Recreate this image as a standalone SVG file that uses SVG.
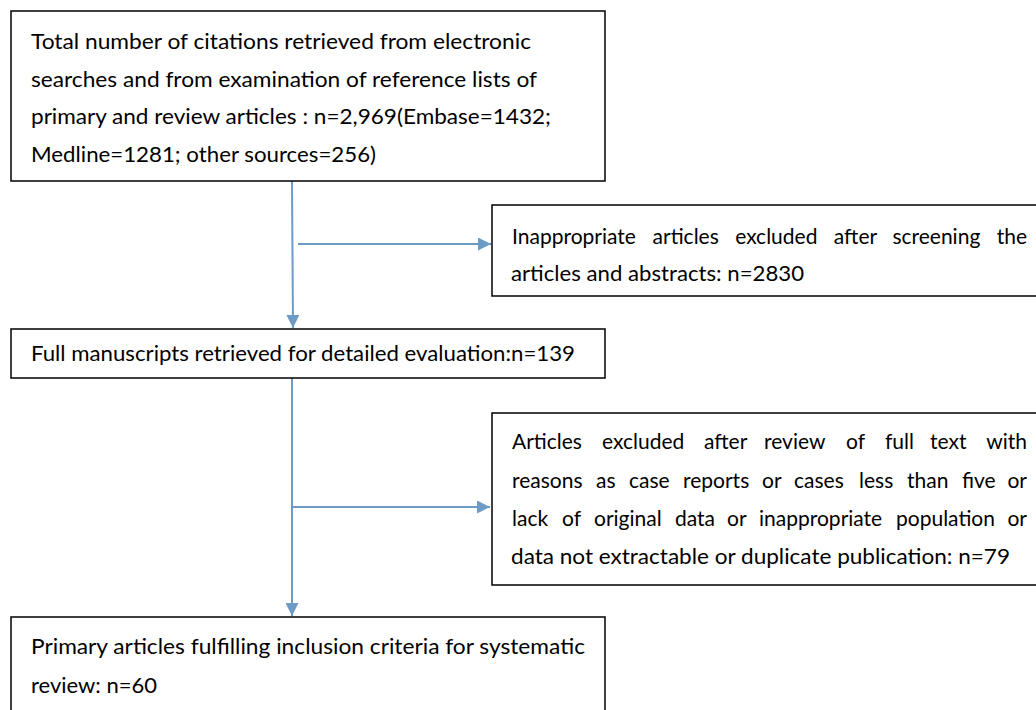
<svg xmlns="http://www.w3.org/2000/svg" width="1036" height="710" viewBox="0 0 1036 710">
<style>
.box{fill:#fff;stroke:#000;stroke-width:1.5}
.t{font-family:Lato,"Open Sans","Liberation Sans",sans-serif;font-size:21px;fill:#000}
.e{text-anchor:end}
.c{stroke:#6e9ac6;stroke-width:2;fill:none}
</style>
<defs>
<marker id="ah" viewBox="0 0 10 10" refX="10" refY="5" markerWidth="13" markerHeight="13" markerUnits="userSpaceOnUse" orient="auto">
<path d="M0,0 L10,5 L0,10 z" fill="#6e9ac6"/>
</marker>
</defs>
<rect width="1036" height="710" fill="#fff"/>
<g id="connectors">
<line class="c" x1="292" y1="181" x2="293" y2="328" marker-end="url(#ah)"/>
<line class="c" x1="298" y1="244" x2="491" y2="244" marker-end="url(#ah)"/>
<line class="c" x1="292" y1="378" x2="292" y2="616" marker-end="url(#ah)"/>
<line class="c" x1="293" y1="507" x2="490" y2="507" marker-end="url(#ah)"/>
</g>
<g id="n1">
<rect class="box" x="11" y="11" width="594" height="170"/>
<text class="t" x="31" y="49" textLength="500" lengthAdjust="spacingAndGlyphs">Total number of citations retrieved from electronic</text>
<text class="t" x="31" y="87" textLength="506" lengthAdjust="spacingAndGlyphs">searches and from examination of reference lists of</text>
<text class="t" x="31" y="124" textLength="520" lengthAdjust="spacingAndGlyphs">primary and review articles : n=2,969(Embase=1432;</text>
<text class="t" x="31" y="162" textLength="345" lengthAdjust="spacingAndGlyphs">Medline=1281; other sources=256)</text>
</g>
<g id="n2">
<rect class="box" x="492" y="205" width="550" height="91"/>
<text class="t" y="244"><tspan x="512">Inappropriate</tspan> <tspan x="652.6">articles</tspan> <tspan x="735.2">excluded</tspan> <tspan x="833.8">after</tspan> <tspan x="892.4">screening</tspan></text>
<text class="t e" x="1027" y="244">the</text>
<text class="t" x="511" y="281" textLength="293" lengthAdjust="spacingAndGlyphs">articles and abstracts: n=2830</text>
</g>
<g id="n3">
<rect class="box" x="11" y="329" width="594" height="49"/>
<text class="t" x="31" y="361" textLength="544" lengthAdjust="spacingAndGlyphs">Full manuscripts retrieved for detailed evaluation:n=139</text>
</g>
<g id="n4">
<rect class="box" x="492" y="413" width="550" height="172"/>
<text class="t" y="449"><tspan x="512">Articles</tspan> <tspan x="602">excluded</tspan> <tspan x="704">after</tspan> <tspan x="764">review</tspan> <tspan x="846">of</tspan> <tspan x="885">full</tspan> <tspan x="930">text</tspan></text>
<text class="t e" x="1027" y="449">with</text>
<text class="t" y="488"><tspan x="512">reasons</tspan> <tspan x="596">as</tspan> <tspan x="629">case</tspan> <tspan x="683">reports</tspan> <tspan x="762">or</tspan> <tspan x="794">cases</tspan> <tspan x="859">less</tspan> <tspan x="907">than</tspan> <tspan x="962">five</tspan></text>
<text class="t e" x="1027" y="488">or</text>
<text class="t" y="526"><tspan x="512">lack</tspan> <tspan x="562">of</tspan> <tspan x="594">original</tspan> <tspan x="675">data</tspan> <tspan x="727">or</tspan> <tspan x="759">inappropriate</tspan> <tspan x="896">population</tspan></text>
<text class="t e" x="1027" y="526">or</text>
<text class="t" x="511" y="564" textLength="499" lengthAdjust="spacingAndGlyphs">data not extractable or duplicate publication: n=79</text>
</g>
<g id="n5">
<rect class="box" x="11" y="617" width="594" height="100"/>
<text class="t" x="31" y="654" textLength="554" lengthAdjust="spacingAndGlyphs">Primary articles fulfilling inclusion criteria for systematic</text>
<text class="t" x="31" y="693" textLength="126" lengthAdjust="spacingAndGlyphs">review: n=60</text>
</g>
</svg>
